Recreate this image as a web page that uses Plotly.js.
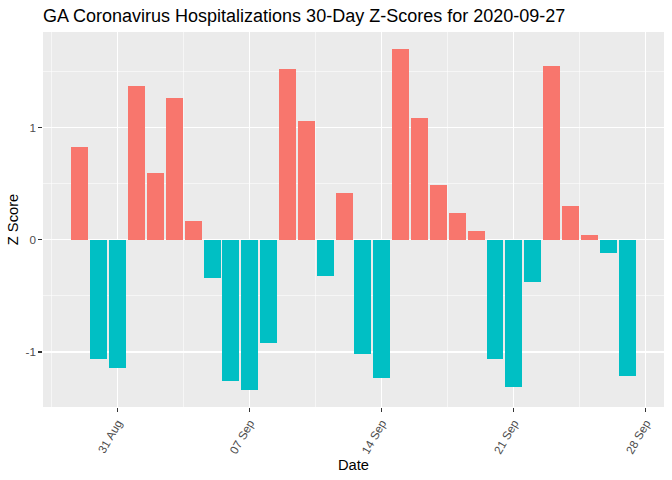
<!DOCTYPE html>
<html>
<head>
<meta charset="utf-8">
<script src="https://cdn.plot.ly/plotly-3.0.1.min.js"></script>
<style>html,body{margin:0;padding:0;background:#fff;}#chart{width:672px;height:480px;}</style>
</head>
<body>
<div id="chart"></div>
<script>
const dates = [
  "2020-08-29","2020-08-30","2020-08-31","2020-09-01","2020-09-02","2020-09-03",
  "2020-09-04","2020-09-05","2020-09-06","2020-09-07","2020-09-08","2020-09-09",
  "2020-09-10","2020-09-11","2020-09-12","2020-09-13","2020-09-14","2020-09-15",
  "2020-09-16","2020-09-17","2020-09-18","2020-09-19","2020-09-20","2020-09-21",
  "2020-09-22","2020-09-23","2020-09-24","2020-09-25","2020-09-26","2020-09-27"
];
const zScores = [
  0.83, -1.06, -1.14, 1.37, 0.59, 1.26,
  0.17, -0.34, -1.26, -1.34, -0.92, 1.52,
  1.06, -0.32, 0.42, -1.02, -1.23, 1.70,
  1.08, 0.49, 0.24, 0.08, -1.06, -1.31,
  -0.38, 1.55, 0.30, 0.045, -0.12, -1.21
];
const tickDates = ["2020-08-31","2020-09-07","2020-09-14","2020-09-21","2020-09-28"];
const tickLabels = ["31 Aug","07 Sep","14 Sep","21 Sep","28 Sep"];

const DAY = 86400000;
const posColor = "#F8766D", negColor = "#00BFC4";

const trace = {
  type: "bar",
  x: dates,
  y: zScores,
  width: 0.9 * DAY,
  marker: { color: zScores.map(v => v > 0 ? posColor : negColor), line: { width: 0 } },
  hoverinfo: "x+y"
};

const font = "Liberation Sans, Arial, sans-serif";
const layout = {
  width: 672, height: 480,
  margin: { l: 43, r: 8, t: 32, b: 73 },
  paper_bgcolor: "#FFFFFF",
  plot_bgcolor: "#EBEBEB",
  showlegend: false,
  bargap: 0,
  font: { family: font, color: "#000000" },
  title: {
    text: "GA Coronavirus Hospitalizations 30-Day Z-Scores for 2020-09-27",
    font: { family: font, size: 18, color: "#000000" },
    xref: "paper", x: 0, xanchor: "left",
    yref: "container", y: 1 - 16/480, yanchor: "middle"
  },
  xaxis: {
    type: "date",
    range: ["2020-08-27 01:00", "2020-09-28 23:00"],
    tickvals: tickDates,
    ticktext: tickLabels,
    tickangle: -60,
    tickfont: { family: font, size: 11.7, color: "#4D4D4D" },
    ticks: "outside", ticklen: 3.7, tickwidth: 1.07, tickcolor: "#333333",
    showgrid: true, gridcolor: "#FFFFFF", gridwidth: 1.07,
    minor: { tickvals: ["2020-08-27 12:00","2020-09-03 12:00","2020-09-10 12:00","2020-09-17 12:00","2020-09-24 12:00"], showgrid: true, gridcolor: "#FFFFFF", gridwidth: 0.53, ticks: "" },
    zeroline: false, showline: false,
    title: { text: "Date", font: { family: font, size: 14.7, color: "#000000" }, standoff: 4 }
  },
  yaxis: {
    range: [-1.49, 1.85],
    tickvals: [-1, 0, 1],
    ticktext: ["-1", "0", "1"],
    tickfont: { family: font, size: 11.7, color: "#4D4D4D" },
    ticks: "outside", ticklen: 3.7, tickwidth: 1.07, tickcolor: "#333333",
    showgrid: true, gridcolor: "#FFFFFF", gridwidth: 1.07,
    minor: { tickvals: [-1.5, -0.5, 0.5, 1.5], showgrid: true, gridcolor: "#FFFFFF", gridwidth: 0.53, ticks: "" },
    zeroline: false, showline: false,
    title: { text: "Z Score", font: { family: font, size: 14.7, color: "#000000" }, standoff: 3 }
  }
};

Plotly.newPlot("chart", [trace], layout, { displayModeBar: false, staticPlot: true });
</script>
</body>
</html>
